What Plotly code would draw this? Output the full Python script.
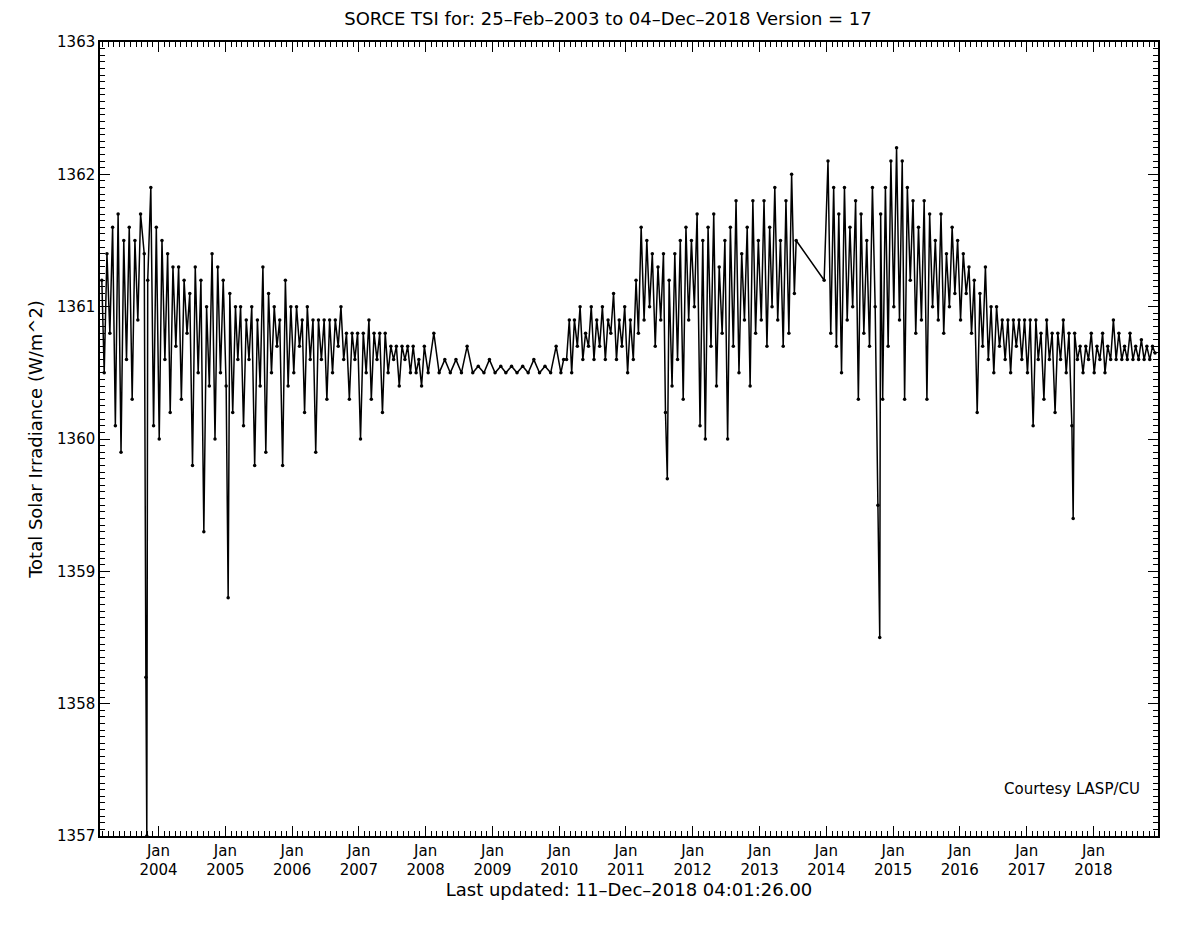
import plotly.graph_objects as go

# TSI readings (W/m^2), ~semi-monthly samples
dates = [
"2003-02-25","2003-03-10","2003-03-25","2003-04-10","2003-04-25","2003-05-10","2003-05-25","2003-06-10","2003-06-25","2003-07-10","2003-07-25","2003-08-10","2003-08-25","2003-09-10","2003-09-25","2003-10-15","2003-10-24","2003-10-29","2003-11-03","2003-11-20","2003-12-05","2003-12-20",
"2004-01-05","2004-01-20","2004-02-05","2004-02-20","2004-03-05","2004-03-20","2004-04-05","2004-04-20","2004-05-05","2004-05-20","2004-06-05","2004-06-20","2004-07-05","2004-07-20","2004-08-05","2004-08-20","2004-09-05","2004-09-20","2004-10-05","2004-10-20","2004-11-05","2004-11-20","2004-12-05","2004-12-20",
"2005-01-05","2005-01-16","2005-01-25","2005-02-10","2005-02-25","2005-03-10","2005-03-25","2005-04-10","2005-04-25","2005-05-10","2005-05-25","2005-06-10","2005-06-25","2005-07-10","2005-07-25","2005-08-10","2005-08-25","2005-09-10","2005-09-25","2005-10-10","2005-10-25","2005-11-10","2005-11-25","2005-12-10","2005-12-25",
"2006-01-10","2006-01-25","2006-02-10","2006-02-25","2006-03-10","2006-03-25","2006-04-10","2006-04-25","2006-05-10","2006-05-25","2006-06-10","2006-06-25","2006-07-10","2006-07-25","2006-08-10","2006-08-25","2006-09-10","2006-09-25","2006-10-10","2006-10-25","2006-11-10","2006-11-25","2006-12-10","2006-12-25",
"2007-01-10","2007-01-25","2007-02-10","2007-02-25","2007-03-10","2007-03-25","2007-04-10","2007-04-25","2007-05-10","2007-05-25","2007-06-10","2007-06-25","2007-07-10","2007-07-25","2007-08-10","2007-08-25","2007-09-10","2007-09-25","2007-10-10","2007-10-25","2007-11-10","2007-11-25","2007-12-10","2007-12-25",
"2008-01-15","2008-02-15","2008-03-15","2008-04-15","2008-05-15","2008-06-15","2008-07-15","2008-08-15","2008-09-15","2008-10-15","2008-11-15","2008-12-15",
"2009-01-15","2009-02-15","2009-03-15","2009-04-15","2009-05-15","2009-06-15","2009-07-15","2009-08-15","2009-09-15","2009-10-15","2009-11-15","2009-12-15",
"2010-01-10","2010-01-25","2010-02-10","2010-02-25","2010-03-10","2010-03-25","2010-04-10","2010-04-25","2010-05-10","2010-05-25","2010-06-10","2010-06-25","2010-07-10","2010-07-25","2010-08-10","2010-08-25","2010-09-10","2010-09-25","2010-10-10","2010-10-25","2010-11-10","2010-11-25","2010-12-10","2010-12-25",
"2011-01-10","2011-01-25","2011-02-10","2011-02-25","2011-03-10","2011-03-25","2011-04-10","2011-04-25","2011-05-10","2011-05-25","2011-06-10","2011-06-25","2011-07-10","2011-07-25","2011-08-05","2011-08-15","2011-08-25","2011-09-10","2011-09-25","2011-10-10","2011-10-25","2011-11-10","2011-11-25","2011-12-10","2011-12-25",
"2012-01-10","2012-01-25","2012-02-10","2012-02-25","2012-03-10","2012-03-25","2012-04-10","2012-04-25","2012-05-10","2012-05-25","2012-06-10","2012-06-25","2012-07-10","2012-07-25","2012-08-10","2012-08-25","2012-09-10","2012-09-25","2012-10-10","2012-10-25","2012-11-10","2012-11-25","2012-12-10","2012-12-25",
"2013-01-10","2013-01-25","2013-02-10","2013-02-25","2013-03-10","2013-03-25","2013-04-10","2013-04-25","2013-05-10","2013-05-25","2013-06-10","2013-06-25","2013-07-10","2013-07-20",
"2013-12-20","2014-01-10","2014-01-25","2014-02-10","2014-02-25","2014-03-10","2014-03-25","2014-04-10","2014-04-25","2014-05-10","2014-05-25","2014-06-10","2014-06-25","2014-07-10","2014-07-25","2014-08-10","2014-08-25","2014-09-10","2014-09-25","2014-10-10","2014-10-20","2014-10-25","2014-11-05","2014-11-20","2014-12-05","2014-12-20",
"2015-01-05","2015-01-20","2015-02-05","2015-02-20","2015-03-05","2015-03-20","2015-04-05","2015-04-20","2015-05-05","2015-05-20","2015-06-05","2015-06-20","2015-07-05","2015-07-20","2015-08-05","2015-08-20","2015-09-05","2015-09-20","2015-10-05","2015-10-20","2015-11-05","2015-11-20","2015-12-05","2015-12-20",
"2016-01-05","2016-01-20","2016-02-05","2016-02-20","2016-03-05","2016-03-20","2016-04-05","2016-04-20","2016-05-05","2016-05-20","2016-06-05","2016-06-20","2016-07-05","2016-07-20","2016-08-05","2016-08-20","2016-09-05","2016-09-20","2016-10-05","2016-10-20","2016-11-05","2016-11-20","2016-12-05","2016-12-20",
"2017-01-05","2017-01-20","2017-02-05","2017-02-20","2017-03-05","2017-03-20","2017-04-05","2017-04-20","2017-05-05","2017-05-20","2017-06-05","2017-06-20","2017-07-05","2017-07-20","2017-08-05","2017-08-20","2017-09-05","2017-09-12","2017-09-20","2017-10-05","2017-10-20","2017-11-05","2017-11-20","2017-12-05","2017-12-20",
"2018-01-05","2018-01-20","2018-02-05","2018-02-20","2018-03-05","2018-03-20","2018-04-05","2018-04-20","2018-05-05","2018-05-20","2018-06-05","2018-06-20","2018-07-05","2018-07-20","2018-08-05","2018-08-20","2018-09-05","2018-09-20","2018-10-05","2018-10-20","2018-11-05","2018-11-20","2018-12-04",
]
tsi = [
1361.2,1360.5,1361.4,1360.8,1361.6,1360.1,1361.7,1359.9,1361.5,1360.6,1361.6,1360.3,1361.5,1360.9,1361.7,1361.4,1358.2,1357.0,1361.2,1361.9,1360.1,1361.6,
1360.0,1361.5,1360.6,1361.4,1360.2,1361.3,1360.7,1361.3,1360.3,1361.2,1360.8,1361.1,1359.8,1361.3,1360.5,1361.2,1359.3,1361.0,1360.4,1361.4,1360.0,1361.3,1360.5,1361.2,
1360.4,1358.8,1361.1,1360.2,1361.0,1360.6,1361.0,1360.1,1360.9,1360.6,1361.0,1359.8,1360.9,1360.4,1361.3,1359.9,1361.1,1360.5,1361.0,1360.7,1360.9,1359.8,1361.2,1360.4,1361.0,
1360.5,1361.0,1360.7,1360.9,1360.2,1361.0,1360.6,1360.9,1359.9,1360.9,1360.6,1360.9,1360.3,1360.9,1360.5,1360.9,1360.7,1361.0,1360.6,1360.8,1360.3,1360.8,1360.6,1360.8,
1360.0,1360.8,1360.5,1360.9,1360.3,1360.8,1360.6,1360.8,1360.2,1360.8,1360.5,1360.7,1360.6,1360.7,1360.4,1360.7,1360.6,1360.7,1360.5,1360.7,1360.5,1360.6,1360.4,1360.7,
1360.5,1360.8,1360.5,1360.6,1360.5,1360.6,1360.5,1360.7,1360.5,1360.55,1360.5,1360.6,
1360.5,1360.55,1360.5,1360.55,1360.5,1360.55,1360.5,1360.6,1360.5,1360.55,1360.5,1360.7,
1360.5,1360.6,1360.6,1360.9,1360.5,1360.9,1360.7,1361.0,1360.6,1360.8,1360.7,1361.0,1360.6,1360.9,1360.7,1361.0,1360.6,1360.9,1360.8,1361.1,1360.6,1360.9,1360.7,1361.0,
1360.5,1360.9,1360.6,1361.2,1360.8,1361.6,1360.9,1361.5,1361.0,1361.4,1360.7,1361.3,1360.9,1361.4,1360.2,1359.7,1361.2,1360.4,1361.4,1360.6,1361.5,1360.3,1361.6,1360.9,1361.5,
1361.0,1361.7,1360.1,1361.5,1360.0,1361.6,1360.7,1361.7,1360.4,1361.3,1360.8,1361.5,1360.0,1361.6,1360.7,1361.8,1360.5,1361.4,1360.9,1361.6,1360.4,1361.8,1360.8,1361.5,
1360.9,1361.8,1360.7,1361.6,1361.0,1361.9,1360.9,1361.5,1360.7,1361.8,1360.8,1362.0,1361.1,1361.5,
1361.2,1362.1,1360.8,1361.9,1360.7,1361.7,1360.5,1361.9,1360.9,1361.6,1361.0,1361.8,1360.3,1361.7,1360.8,1361.5,1360.7,1361.9,1361.0,1359.5,1358.5,1361.7,1360.3,1361.9,1360.7,1362.1,
1361.0,1362.2,1360.9,1362.1,1360.3,1361.9,1361.2,1361.8,1360.8,1361.6,1360.9,1361.8,1360.3,1361.7,1361.0,1361.5,1360.9,1361.7,1360.8,1361.4,1361.0,1361.6,1361.1,1361.5,
1360.9,1361.4,1361.1,1361.3,1360.8,1361.2,1360.2,1361.1,1360.7,1361.3,1360.6,1361.0,1360.5,1361.0,1360.7,1360.9,1360.6,1360.9,1360.5,1360.9,1360.7,1360.9,1360.6,1360.9,
1360.5,1360.9,1360.1,1360.9,1360.6,1360.8,1360.3,1360.9,1360.6,1360.8,1360.2,1360.8,1360.6,1360.9,1360.5,1360.8,1360.1,1359.4,1360.8,1360.6,1360.7,1360.5,1360.7,1360.6,1360.8,
1360.5,1360.7,1360.6,1360.8,1360.5,1360.7,1360.6,1360.9,1360.6,1360.8,1360.6,1360.7,1360.6,1360.8,1360.6,1360.7,1360.6,1360.75,1360.6,1360.7,1360.6,1360.7,1360.65,
]

tick_dates = ["%d-01-01" % y for y in range(2004, 2019)]
tick_text = ["Jan<br>%d" % y for y in range(2004, 2019)]

fig = go.Figure(go.Scatter(
    x=dates, y=tsi, mode="lines+markers",
    line=dict(color="black", width=1.5),
    marker=dict(color="black", size=3.5),
))

axis_common = dict(showline=True, linecolor="black", linewidth=1.5, mirror="ticks",
                   ticks="inside", ticklen=10, tickcolor="black", showgrid=False,
                   zeroline=False, automargin=False)
fig.update_xaxes(**axis_common, range=["2003-02-15", "2018-12-20"],
                 tickvals=tick_dates, ticktext=tick_text,
                 minor=dict(dtick="M1", ticks="inside", ticklen=5, tickcolor="black"),
                 title=dict(text="Last updated: 11–Dec–2018 04:01:26.00", standoff=2))
fig.update_yaxes(**axis_common, range=[1357, 1363], dtick=1,
                 minor=dict(dtick=0.05, ticks="inside", ticklen=5, tickcolor="black"),
                 title=dict(text="Total Solar Irradiance (W/m^2)", standoff=10))

fig.update_layout(
    width=1200, height=942,
    margin=dict(l=92, r=50, t=34, b=114),
    paper_bgcolor="white", plot_bgcolor="white",
    font=dict(family="DejaVu Sans", size=15, color="black"),
    showlegend=False,
    title=dict(text="SORCE TSI for: 25–Feb–2003 to 04–Dec–2018 Version = 17",
               x=0.5, xanchor="center", y=0.995, yanchor="top",
               font=dict(size=18)),
    annotations=[dict(text="Courtesy LASP/CU", xref="paper", yref="paper",
                      x=0.985, y=0.045, xanchor="right", yanchor="bottom",
                      showarrow=False, font=dict(size=15))],
)
fig.write_html("out.html")
